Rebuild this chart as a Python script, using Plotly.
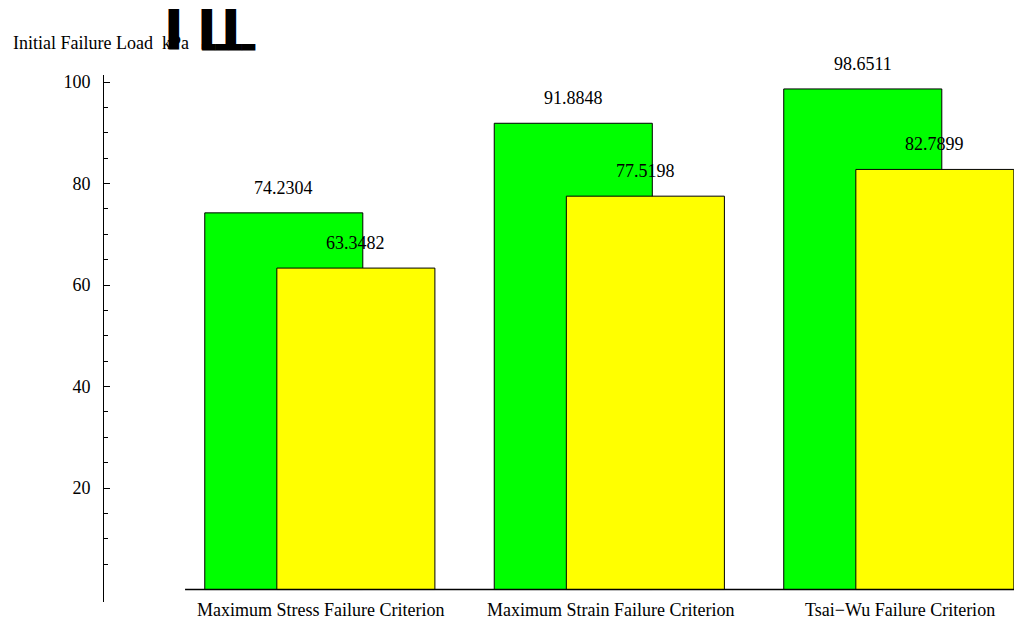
import plotly.graph_objects as go

categories = ["Maximum Stress Failure Criterion", "Maximum Strain Failure Criterion", "Tsai\u2212Wu Failure Criterion"]
series_a = [74.2304, 91.8848, 98.6511]
series_b = [63.3482, 77.5198, 82.7899]
y_major = [20, 40, 60, 80, 100]
y_minor = [5, 10, 15, 25, 30, 35, 45, 50, 55, 65, 70, 75, 85, 90, 95]
title_text = "Initial Failure Load  kPa"

FONT = "Liberation Serif"
FS = 18
W = 0.546
OFF_A = -0.4
OFF_B = -0.151

# page is rendered with an 8px body margin; figure size compensates
FIG_W, FIG_H = 1014, 615
L, T, B, R = 96, 67, 21, 0
PW, PH = FIG_W - L - R, FIG_H - T - B


def px_x(page_x):
    return (page_x - 8 - L) / PW


def px_y(page_y):
    return (FIG_H - B - (page_y - 8)) / PH


fig = go.Figure()
fig.add_trace(go.Bar(x=categories, y=series_a, width=W, offset=OFF_A,
                     marker=dict(color="#00ff00", line=dict(color="black", width=1)), showlegend=False))
fig.add_trace(go.Bar(x=categories, y=series_b, width=W, offset=OFF_B,
                     marker=dict(color="#ffff00", line=dict(color="black", width=1)), showlegend=False))

for i, v in enumerate(series_a):
    fig.add_annotation(x=i + OFF_A + W / 2, y=v, text=f"{v:.4f}", showarrow=False, yshift=25,
                       font=dict(family=FONT, size=FS, color="black"), xref="x", yref="y")
for i, v in enumerate(series_b):
    fig.add_annotation(x=i + OFF_B + W / 2, y=v, text=f"{v:.4f}", showarrow=False, yshift=25,
                       font=dict(family=FONT, size=FS, color="black"), xref="x", yref="y")
for i, c in enumerate(categories):
    fig.add_annotation(x=i, xref="x", yref="paper", y=px_y(610), text=c, showarrow=False,
                       font=dict(family=FONT, size=FS, color="black"), xanchor="center", yanchor="middle")

fig.add_annotation(xref="paper", yref="paper", x=px_x(11), y=px_y(43), text=title_text, showarrow=False,
                   font=dict(family=FONT, size=FS, color="black"), xanchor="left", yanchor="middle")

# broken bracket glyphs
GF = "DejaVu Sans Mono"
for gx in [166, 199, 223]:
    fig.add_annotation(xref="paper", yref="paper", x=px_x(gx), y=px_y(30), text="\u258c", showarrow=False,
                       font=dict(family=GF, size=34, color="black"), xanchor="left", yanchor="middle")
fig.add_annotation(xref="paper", yref="paper", x=px_x(199), y=px_y(38), text="\u2582\u2582\u2582\u2582", showarrow=False,
                   font=dict(family=GF, size=22, color="black"), xanchor="left", yanchor="middle")

fig.add_shape(type="line", xref="x", yref="y", x0=-0.468, x1=2.43, y0=0, y1=0,
              line=dict(color="black", width=1.3))

fig.update_layout(
    width=FIG_W, height=FIG_H,
    margin=dict(l=L, r=R, t=T, b=B),
    paper_bgcolor="white", plot_bgcolor="white",
    barmode="overlay",
    font=dict(family=FONT, size=FS, color="black"),
    xaxis=dict(range=[-0.748, 2.423], showline=False, showgrid=False, zeroline=False,
               ticks="", showticklabels=False, automargin=False),
    yaxis=dict(range=[-2.46, 101.4], showline=True, linecolor="black", linewidth=1,
               showgrid=False, zeroline=False, tickmode="array", tickvals=y_major,
               ticks="inside", ticklen=6, tickcolor="black", tickwidth=1,
               minor=dict(tickmode="array", tickvals=y_minor, ticks="inside", ticklen=4, tickcolor="black", showgrid=False),
               tickfont=dict(family=FONT, size=FS), automargin=False, ticklabelstandoff=9),
)

fig.write_html("out.html")
